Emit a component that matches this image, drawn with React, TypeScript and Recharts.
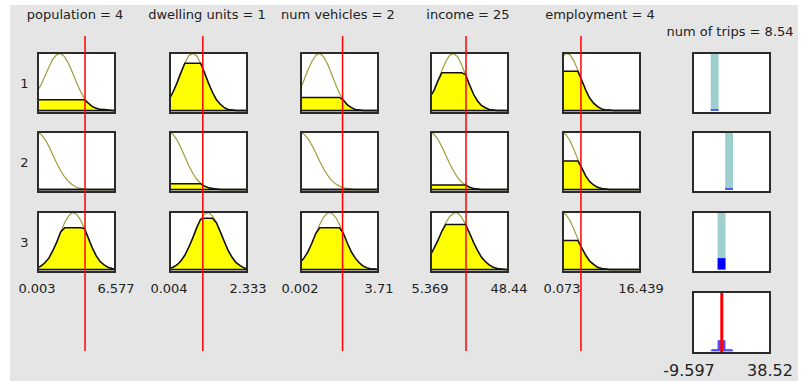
import React from "react";
import {
  ComposedChart,
  Line,
  Area,
  XAxis,
  YAxis,
  ReferenceLine,
  ReferenceArea,
} from "recharts";

// inputs
const INPUT_NAMES = ["population", "dwelling units", "num vehicles", "income", "employment"];
const INPUT_VALUES = [4, 1, 2, 25, 4];
const INPUT_MIN = [0.003, 0.004, 0.002, 5.369, 0.073];
const INPUT_MAX = [6.577, 2.333, 3.71, 48.44, 16.439];

// sample positions across each input range (fraction of range)
const SAMPLE_POS = [
  0, 0.05, 0.1, 0.15, 0.2, 0.25, 0.3, 0.35, 0.4, 0.45, 0.5, 0.55, 0.6, 0.65, 0.7, 0.75, 0.8,
  0.85, 0.9, 0.95, 1,
];

// membership functions per rule (rows 1..3)
const popMf = [
  [0.33, 0.45, 0.6, 0.76, 0.9, 0.98, 1, 0.94, 0.82, 0.66, 0.49, 0.34, 0.21, 0.13, 0.07, 0.04, 0.02, 0.02, 0.01, 0, 0],
  [1, 0.97, 0.88, 0.76, 0.61, 0.46, 0.33, 0.22, 0.14, 0.08, 0.04, 0.02, 0.01, 0, 0, 0, 0, 0, 0, 0, 0],
  [0.03, 0.06, 0.12, 0.2, 0.33, 0.48, 0.66, 0.82, 0.94, 1, 0.97, 0.87, 0.72, 0.55, 0.38, 0.24, 0.14, 0.08, 0.04, 0.02, 0.01],
];
const dwellMf = [
  [0.19, 0.32, 0.48, 0.66, 0.83, 0.96, 1, 0.96, 0.83, 0.66, 0.48, 0.32, 0.19, 0.11, 0.05, 0.02, 0.01, 0, 0, 0, 0],
  [1, 0.97, 0.87, 0.73, 0.58, 0.42, 0.29, 0.18, 0.11, 0.06, 0.03, 0.02, 0.01, 0, 0, 0, 0, 0, 0, 0, 0],
  [0.02, 0.04, 0.08, 0.15, 0.25, 0.39, 0.55, 0.73, 0.88, 0.97, 1, 0.94, 0.82, 0.66, 0.49, 0.33, 0.21, 0.12, 0.07, 0.03, 0.01],
];
const vehMf = [
  [0.36, 0.53, 0.71, 0.86, 0.97, 1, 0.94, 0.81, 0.64, 0.46, 0.3, 0.18, 0.1, 0.05, 0.02, 0.01, 0, 0, 0, 0, 0],
  [1, 0.97, 0.89, 0.78, 0.64, 0.49, 0.36, 0.25, 0.16, 0.1, 0.06, 0.03, 0.02, 0.01, 0, 0, 0, 0, 0, 0, 0],
  [0.12, 0.2, 0.31, 0.46, 0.63, 0.79, 0.92, 0.99, 0.99, 0.92, 0.79, 0.63, 0.46, 0.31, 0.2, 0.12, 0.06, 0.03, 0.01, 0.01, 0],
];
const incMf = [
  [0.24, 0.35, 0.52, 0.7, 0.86, 0.97, 1, 0.94, 0.8, 0.63, 0.45, 0.29, 0.17, 0.09, 0.05, 0.02, 0.01, 0, 0, 0, 0],
  [1, 0.97, 0.88, 0.75, 0.6, 0.45, 0.32, 0.21, 0.13, 0.08, 0.04, 0.02, 0.01, 0, 0, 0, 0, 0, 0, 0, 0],
  [0.24, 0.37, 0.51, 0.67, 0.82, 0.93, 0.99, 0.99, 0.92, 0.79, 0.64, 0.48, 0.34, 0.22, 0.14, 0.08, 0.04, 0.02, 0.01, 0, 0],
];
const empMf = [
  [0.93, 1, 0.98, 0.87, 0.71, 0.53, 0.36, 0.22, 0.13, 0.07, 0.03, 0.01, 0.01, 0, 0, 0, 0, 0, 0, 0, 0],
  [1, 0.96, 0.86, 0.7, 0.53, 0.38, 0.24, 0.14, 0.08, 0.04, 0.02, 0.01, 0, 0, 0, 0, 0, 0, 0, 0, 0],
  [1, 0.96, 0.86, 0.71, 0.54, 0.38, 0.25, 0.15, 0.09, 0.04, 0.02, 0.01, 0, 0, 0, 0, 0, 0, 0, 0, 0],
];
const INPUT_MFS = [popMf, dwellMf, vehMf, incMf, empMf];

// degree of membership at the current input value, per input and rule
const popLevels = [0.19, 0, 0.73];
const dwellLevels = [0.83, 0.1, 0.9];
const vehLevels = [0.23, 0, 0.73];
const incLevels = [0.66, 0.08, 0.79];
const empLevels = [0.69, 0.5, 0.51];
const INPUT_LEVELS = [popLevels, dwellLevels, vehLevels, incLevels, empLevels];

// output
const OUTPUT_NAME = "num of trips";
const OUTPUT_VALUE = 8.54;
const OUTPUT_MIN = -9.597;
const OUTPUT_MAX = 38.52;
const RULE_OUTPUTS = [4.2, 13.0, 8.4];
const RULE_FIRING = [0.02, 0.02, 0.2];
const AGG_SPREAD = [2.3, 15.0];

// layout
const BOX_W = 79;
const BOX_H = 62;
const COL_LEFT = [37, 169, 300, 430, 562];
const OUT_LEFT = 692;
const ROW_TOP = [52, 131, 211];
const AGG_TOP = 291;
const AGG_H = 63;
const Y_DOMAIN: [number, number] = [-0.06, 1.025];
const AGG_Y_DOMAIN: [number, number] = [-0.05, 1.09];
const SINGLETON_HALF = 2.4;
const NO_MARGIN = { top: 0, right: 0, bottom: 0, left: 0 };

const TEAL = "#9dcfcf";
const FONT = "DejaVu Sans";

function Box({ left, top, width = BOX_W, height = BOX_H, children }: any) {
  return (
    <div style={{ position: "absolute", left, top, width, height, background: "#fff" }}>
      {children}
      <div
        style={{
          position: "absolute",
          inset: 0,
          border: "2px solid #2b2b2b",
          boxSizing: "border-box",
          pointerEvents: "none",
        }}
      />
    </div>
  );
}

// invisible series so the reference marks get their scales
function Anchor() {
  return (
    <Line
      dataKey="y"
      stroke="none"
      dot={false}
      activeDot={false}
      isAnimationActive={false}
    />
  );
}

function InputCell({ col, row }: { col: number; row: number }) {
  const min = INPUT_MIN[col];
  const max = INPUT_MAX[col];
  const ys = INPUT_MFS[col][row];
  const level = INPUT_LEVELS[col][row];
  const data = SAMPLE_POS.map((p, i) => ({
    x: min + p * (max - min),
    mf: ys[i],
    fired: Math.min(ys[i], level),
  }));
  return (
    <Box left={COL_LEFT[col]} top={ROW_TOP[row]}>
      <ComposedChart width={BOX_W} height={BOX_H} data={data} margin={NO_MARGIN}>
        <XAxis dataKey="x" type="number" domain={[min, max]} hide allowDataOverflow />
        <YAxis type="number" domain={Y_DOMAIN} hide allowDataOverflow />
        <ReferenceArea y1={Y_DOMAIN[0]} y2={0} fill="#d4d4d4" fillOpacity={1} stroke="none" />
        <Area
          dataKey="fired"
          type="linear"
          baseValue={0}
          fill="#ffff00"
          fillOpacity={1}
          stroke="none"
          dot={false}
          activeDot={false}
          isAnimationActive={false}
        />
        <Line
          dataKey="mf"
          type="linear"
          stroke="#a19c3a"
          strokeWidth={1.2}
          dot={false}
          activeDot={false}
          isAnimationActive={false}
        />
        <Line
          dataKey="fired"
          type="linear"
          stroke="#111"
          strokeWidth={1.5}
          dot={false}
          activeDot={false}
          isAnimationActive={false}
        />
        <ReferenceLine y={0} stroke="#111" strokeWidth={1.5} />
      </ComposedChart>
    </Box>
  );
}

function OutputCell({ row }: { row: number }) {
  const out = RULE_OUTPUTS[row];
  return (
    <Box left={OUT_LEFT} top={ROW_TOP[row]}>
      <ComposedChart
        width={BOX_W}
        height={BOX_H}
        data={[
          { x: OUTPUT_MIN, y: 0 },
          { x: OUTPUT_MAX, y: 0 },
        ]}
        margin={NO_MARGIN}
      >
        <XAxis dataKey="x" type="number" domain={[OUTPUT_MIN, OUTPUT_MAX]} hide />
        <YAxis type="number" domain={Y_DOMAIN} hide />
        {Anchor()}
        <ReferenceArea
          x1={out - SINGLETON_HALF}
          x2={out + SINGLETON_HALF}
          y1={0}
          y2={1}
          fill={TEAL}
          fillOpacity={1}
          stroke="none"
        />
        <ReferenceArea
          x1={out - SINGLETON_HALF}
          x2={out + SINGLETON_HALF}
          y1={0}
          y2={RULE_FIRING[row]}
          fill="#0000ff"
          fillOpacity={1}
          stroke="none"
        />
      </ComposedChart>
    </Box>
  );
}

function AggregateCell() {
  return (
    <Box left={OUT_LEFT} top={AGG_TOP} height={AGG_H}>
      <ComposedChart
        width={BOX_W}
        height={AGG_H}
        data={[
          { x: OUTPUT_MIN, y: 0 },
          { x: OUTPUT_MAX, y: 0 },
        ]}
        margin={NO_MARGIN}
      >
        <XAxis dataKey="x" type="number" domain={[OUTPUT_MIN, OUTPUT_MAX]} hide />
        <YAxis type="number" domain={AGG_Y_DOMAIN} hide />
        {Anchor()}
        {RULE_OUTPUTS.map((out, i) => (
          <ReferenceArea
            key={i}
            x1={out - SINGLETON_HALF}
            x2={out + SINGLETON_HALF}
            y1={0}
            y2={RULE_FIRING[i]}
            fill="#4d4dff"
            fillOpacity={1}
            stroke="none"
          />
        ))}
        <ReferenceLine
          segment={[
            { x: AGG_SPREAD[0], y: 0.02 },
            { x: AGG_SPREAD[1], y: 0.02 },
          ]}
          stroke="#4d4dff"
          strokeWidth={2}
        />
        <ReferenceLine x={OUTPUT_VALUE} stroke="#ff0000" strokeWidth={3} />
      </ComposedChart>
    </Box>
  );
}

function ValueLine({ col }: { col: number }) {
  const min = INPUT_MIN[col];
  const max = INPUT_MAX[col];
  return (
    <div
      style={{
        position: "absolute",
        left: COL_LEFT[col],
        top: 36,
        width: BOX_W,
        height: 315,
        pointerEvents: "none",
      }}
    >
      <ComposedChart
        width={BOX_W}
        height={315}
        data={[
          { x: min, y: 0 },
          { x: max, y: 0 },
        ]}
        margin={NO_MARGIN}
      >
        <XAxis dataKey="x" type="number" domain={[min, max]} hide />
        <YAxis type="number" domain={[0, 1]} hide />
        {Anchor()}
        <ReferenceLine x={INPUT_VALUES[col]} stroke="#ff0000" strokeWidth={1.5} />
      </ComposedChart>
    </div>
  );
}

export default function App() {
  const rows = [0, 1, 2];
  return (
    <div
      style={{
        position: "absolute",
        left: 0,
        top: 0,
        width: 811,
        height: 381,
        overflow: "hidden",
        background: "#fff",
      }}
    >
      <div
        style={{ position: "absolute", left: 10, top: 5, width: 788, height: 376, background: "#e5e5e5" }}
      />
      {INPUT_NAMES.map((_, c) =>
        rows.map((r) => <InputCell key={`${c}-${r}`} col={c} row={r} />)
      )}
      {rows.map((r) => (
        <OutputCell key={r} row={r} />
      ))}
      <AggregateCell />
      {INPUT_NAMES.map((_, c) => (
        <ValueLine key={c} col={c} />
      ))}
      <svg
        width={811}
        height={381}
        style={{ position: "absolute", left: 0, top: 0, pointerEvents: "none" }}
        fontFamily={FONT}
        fontSize={13}
        fill="#222"
      >
        {INPUT_NAMES.map((name, c) => (
          <text key={name} x={COL_LEFT[c] + BOX_W / 2 - 1.5} y={19} textAnchor="middle">
            {`${name} = ${INPUT_VALUES[c]}`}
          </text>
        ))}
        <text x={OUT_LEFT + BOX_W / 2 - 1.5} y={36} textAnchor="middle">
          {`${OUTPUT_NAME} = ${OUTPUT_VALUE}`}
        </text>
        {rows.map((r) => (
          <text key={r} x={24.5} y={ROW_TOP[r] + 35.5} textAnchor="middle">
            {r + 1}
          </text>
        ))}
        {INPUT_NAMES.map((name, c) => (
          <g key={name}>
            <text x={COL_LEFT[c]} y={293} textAnchor="middle">
              {String(INPUT_MIN[c])}
            </text>
            <text x={COL_LEFT[c] + BOX_W} y={293} textAnchor="middle">
              {String(INPUT_MAX[c])}
            </text>
          </g>
        ))}
        <text x={OUT_LEFT - 3} y={376} textAnchor="middle" fontSize={16}>
          {String(OUTPUT_MIN)}
        </text>
        <text x={OUT_LEFT + BOX_W - 1} y={376} textAnchor="middle" fontSize={16}>
          {String(OUTPUT_MAX)}
        </text>
      </svg>
    </div>
  );
}
